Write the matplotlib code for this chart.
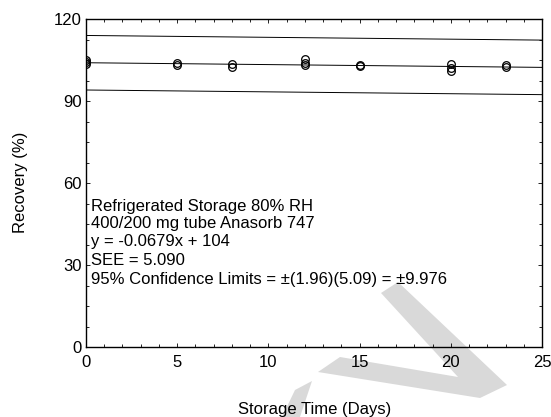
import matplotlib
matplotlib.use("Agg")
import matplotlib.pyplot as plt
from matplotlib.patches import Polygon
from matplotlib.ticker import MultipleLocator
import numpy as np

plt.rcParams['font.family'] = ['Liberation Sans', 'DejaVu Sans']

# storage time (days) and recovery (%) of each sample
days = [0, 0, 0, 5, 5, 8, 8, 12, 12, 12, 15, 15, 20, 20, 20, 23, 23]
recovery = [104.9, 104.2, 103.6, 103.8, 103.0, 103.5, 102.3, 105.2, 104.0, 103.3,
            103.2, 102.9, 103.5, 102.0, 100.8, 103.3, 102.5]

slope = -0.0679
intercept = 104
conf_limit = 9.976

notes = ["Refrigerated Storage 80% RH",
         "400/200 mg tube Anasorb 747",
         "y = -0.0679x + 104",
         "SEE = 5.090",
         "95% Confidence Limits = \u00b1(1.96)(5.09) = \u00b19.976"]

W, H = 551, 417
fig = plt.figure(figsize=(W / 100, H / 100), dpi=100)
ax = fig.add_axes([86 / W, 1 - 347 / H, 456 / W, 328 / H])

# watermark behind everything (pixel coords from top-left)
wm = [[(398, 282), (507, 385), (480, 398), (318, 372), (340, 357), (458, 377), (381, 293)],
      [(282, 417), (300, 417), (312, 381), (295, 390)]]
for poly in wm:
    pts = [(x / W, 1 - y / H) for x, y in poly]
    fig.patches.append(Polygon(pts, closed=True, transform=fig.transFigure,
                               facecolor='#d9d9d9', edgecolor='none', zorder=-1))
ax.set_facecolor('none')

xs = np.array([0, 25])
fit = slope * xs + intercept
ax.plot(xs, fit, color='black', lw=0.7)
ax.plot(xs, fit + conf_limit, color='black', lw=0.7)
ax.plot(xs, fit - conf_limit, color='black', lw=0.7)
ax.plot(days, recovery, 'o', mfc='none', mec='black', ms=5.5, mew=0.9)

ax.set_xlim(0, 25)
ax.set_ylim(0, 120)
ax.xaxis.set_major_locator(MultipleLocator(5))
ax.xaxis.set_minor_locator(MultipleLocator(1))
ax.yaxis.set_major_locator(MultipleLocator(30))
ax.yaxis.set_minor_locator(MultipleLocator(7.5))
ax.tick_params(which='both', direction='in', top=True, right=True, width=0.6)
ax.tick_params(which='major', length=3)
ax.tick_params(which='minor', length=2)
ax.tick_params(axis='x', labelsize=12, pad=6)
ax.tick_params(axis='y', labelsize=12, pad=3)
for s in ax.spines.values():
    s.set_linewidth(1.0)

baselines = [211, 228, 246, 265, 284]
for txt, py in zip(notes, baselines):
    ax.text((91 - 86) / 456, (347 - py) / 328, txt, transform=ax.transAxes,
            fontsize=12, va='baseline', ha='left')

fig.text(315 / W, 1 - 414 / H, "Storage Time (Days)", fontsize=12,
         ha='center', va='baseline')
fig.text(21 / W, 1 - 182 / H, "Recovery (%)", fontsize=12, rotation=90,
         ha='center', va='center')

fig.savefig("out.png", dpi=100)
